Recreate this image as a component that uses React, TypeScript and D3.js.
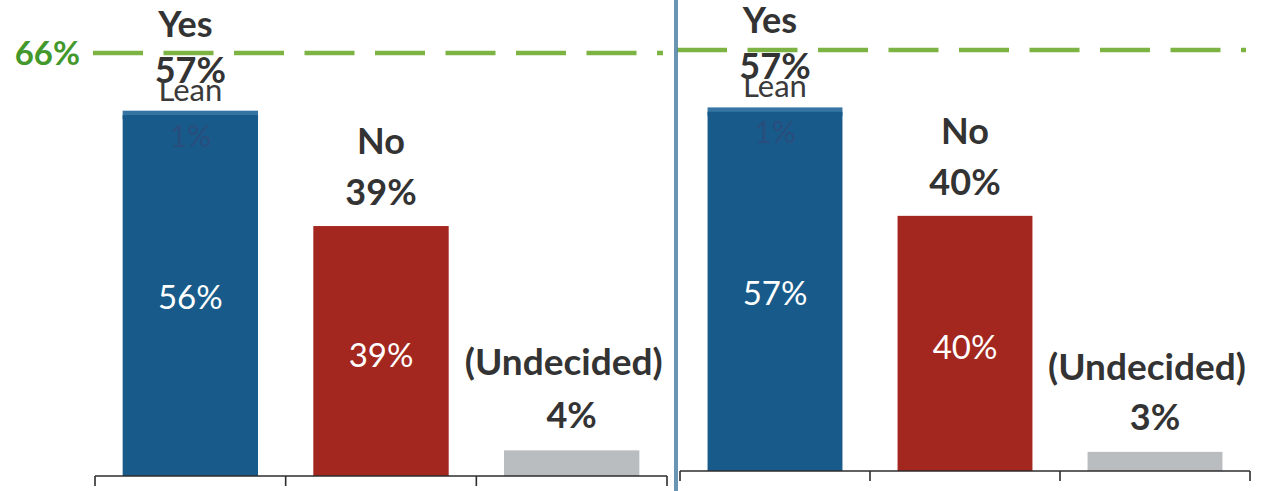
import React from "react";
import * as d3 from "d3";

// ---- data ----
const categories = ["Yes", "No", "(Undecided)"];
const yesTotal = [57, 57];
const yesLean = [1, 1];
const yesInnerLabel = [56, 57];
const yesTopLabel = [57, 57];
const noValues = [39, 40];
const undecidedValues = [4, 3];
const thresholdValue = 66;
const thresholdLabel = "66%";

// ---- layout ----
const W = 1270;
const H = 491;
const panelRanges: [number, number][] = [
  [95, 667],
  [680, 1250],
];
const panelBase = [476, 471];
const panelTop = [53, 50];
const lineRanges: [number, number][] = [
  [93, 663],
  [677, 1246],
];

const BLUE = "#185b8b";
const BLUE_LEAN = "#3574a3";
const RED = "#a4271f";
const GRAY = "#b9bdbf";
const GREEN_LINE = "#7db343";
const GREEN_TEXT = "#43982c";
const TEXT = "#333333";
const FONT = "Lato, 'Open Sans', sans-serif";

function Panel({ i }: { i: number }) {
  const x = d3
    .scaleBand<string>()
    .domain(categories)
    .range(panelRanges[i])
    .paddingInner(0.29)
    .paddingOuter(0.145);
  const y = d3
    .scaleLinear()
    .domain([0, thresholdValue])
    .range([panelBase[i], panelTop[i]]);
  const bw = x.bandwidth();
  const cx = (c: string) => (x(c) as number) + bw / 2;

  const yesX = x("Yes") as number;
  const noX = x("No") as number;
  const unX = x("(Undecided)") as number;

  const baseVal = yesTotal[i] - yesLean[i];
  const yesTop = y(yesTotal[i]);
  const noTop = y(noValues[i]);
  const unTop = y(undecidedValues[i]);
  const y0 = y(0);

  const ticks = [
    panelRanges[i][0],
    yesX + bw + (noX - yesX - bw) / 2,
    noX + bw + (unX - noX - bw) / 2,
    panelRanges[i][1],
  ];

  const big = 36;
  return (
    <g>
      {/* threshold dashed line */}
      <line
        x1={lineRanges[i][0]}
        x2={lineRanges[i][1]}
        y1={y(thresholdValue)}
        y2={y(thresholdValue)}
        stroke={GREEN_LINE}
        strokeWidth={4.5}
        strokeDasharray="50 20.5"
      />
      {/* bars */}
      <rect x={yesX} y={y(baseVal)} width={bw} height={y0 - y(baseVal)} fill={BLUE} />
      <rect x={yesX} y={yesTop} width={bw} height={y(baseVal) - yesTop} fill={BLUE_LEAN} />
      <rect x={yesX} y={y(baseVal) - 2} width={bw} height={4} fill={BLUE} />
      <rect x={noX} y={noTop} width={bw} height={y0 - noTop} fill={RED} />
      <rect x={unX} y={unTop} width={bw} height={y0 - unTop} fill={GRAY} />

      {/* axis */}
      <path
        d={`M${panelRanges[i][0]},${y0}H${panelRanges[i][1]}`}
        stroke="#2d2d2d"
        strokeWidth={1.6}
        fill="none"
      />
      {ticks.map((t, k) => (
        <line key={k} x1={t} x2={t} y1={y0} y2={y0 + 10} stroke="#2d2d2d" strokeWidth={1.6} />
      ))}

      {/* labels */}
      <g fontFamily={FONT} textAnchor="middle">
        <text x={cx("Yes") - 5} y={yesTop - 74} fontSize={big} fontWeight={700} fill={TEXT}>
          Yes
        </text>
        <text x={cx("Yes")} y={yesTop - 28} fontSize={big} fontWeight={700} fill={TEXT}>
          {yesTopLabel[i]}%
        </text>
        <text x={cx("Yes")} y={yesTop - 10} fontSize={31} fontWeight={400} fill="#3a3a3a">
          Lean
        </text>
        <text x={cx("Yes")} y={yesTop + 36} fontSize={30} fontWeight={400} fill="#2b4d7c" opacity={0.9}>
          {yesLean[i]}%
        </text>
        <text x={cx("Yes")} y={(yesTop + y0) / 2 + 16} fontSize={33} fontWeight={400} fill="#ffffff">
          {yesInnerLabel[i]}%
        </text>

        <text x={cx("No")} y={noTop - 72} fontSize={big} fontWeight={700} fill={TEXT}>
          No
        </text>
        <text x={cx("No")} y={noTop - 21} fontSize={big} fontWeight={700} fill={TEXT}>
          {noValues[i]}%
        </text>
        <text x={cx("No")} y={(noTop + y0) / 2 + 16} fontSize={33} fontWeight={400} fill="#ffffff">
          {noValues[i]}%
        </text>

        <text x={cx("(Undecided)") - 8 + i * 0} y={unTop - 75 + i * 3} fontSize={big + 1} fontWeight={700} fill={TEXT}>
          (Undecided)
        </text>
        <text x={cx("(Undecided)")} y={unTop - 22} fontSize={big} fontWeight={700} fill={TEXT}>
          {undecidedValues[i]}%
        </text>
      </g>
    </g>
  );
}

export default function App() {
  const yL = d3.scaleLinear().domain([0, thresholdValue]).range([panelBase[0], panelTop[0]]);
  return (
    <div style={{ position: "absolute", left: 0, top: 0 }}>
      <svg width={W} height={H} viewBox={`0 0 ${W} ${H}`} style={{ display: "block", background: "#ffffff" }}>
        <rect x={0} y={0} width={W} height={H} fill="#ffffff" />
        <Panel i={0} />
        <Panel i={1} />
        {/* separator between the two scans */}
        <rect x={674} y={0} width={4} height={H} fill="#4f82a6" opacity={0.85} />
        <text
          x={80}
          y={yL(thresholdValue) + 12}
          textAnchor="end"
          fontFamily={FONT}
          fontSize={33}
          fontWeight={700}
          fill={GREEN_TEXT}
        >
          {thresholdLabel}
        </text>
      </svg>
    </div>
  );
}
